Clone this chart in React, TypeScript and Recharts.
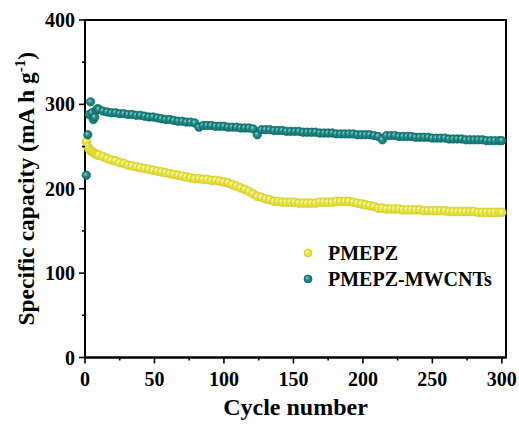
import { ReferenceArea, Scatter, ScatterChart, XAxis, YAxis } from "recharts";

const cycles = [
  1, 2, 3, 4, 5, 6, 7, 8, 9, 10,
  13, 16, 19, 22, 25, 28, 31, 34, 37, 40,
  43, 46, 49, 52, 55, 58, 61, 64, 67, 70,
  73, 76, 79, 82, 85, 88, 91, 94, 97, 100,
  103, 106, 109, 112, 115, 118, 121, 124, 127, 130,
  133, 136, 139, 142, 145, 148, 151, 154, 157, 160,
  163, 166, 169, 172, 175, 178, 181, 184, 187, 190,
  193, 196, 199, 202, 205, 208, 211, 214, 217, 220,
  223, 226, 229, 232, 235, 238, 241, 244, 247, 250,
  253, 256, 259, 262, 265, 268, 271, 274, 277, 280,
  283, 286, 289, 292, 295, 298,
  300,
];

const pmepz = [
  256, 250, 247, 245, 244, 243, 242, 241, 240, 240,
  238, 236, 234, 233, 231, 230, 228, 227, 226, 225,
  224, 223, 222, 221, 220, 219, 218, 217, 216, 215,
  214, 213, 212, 212, 211, 211, 210, 210, 209, 208,
  207, 205, 203, 201, 199, 197, 194, 191, 190, 188,
  187, 185, 185, 184, 184, 184, 184, 183, 183, 183,
  183, 183, 184, 184, 184, 184, 185, 185, 185, 185,
  184, 183, 182, 181, 180, 179, 177, 177, 176, 176,
  176, 176, 175, 175, 175, 175, 175, 174, 174, 174,
  174, 174, 174, 173, 173, 173, 173, 173, 173, 173,
  172, 172, 172, 172, 172, 172,
  172,
];

const pmepzMwcnts = [
  216, 264, 288, 303, 290, 282, 285, 293, 295, 294,
  292, 291, 290, 290, 289, 289, 288, 288, 287, 287,
  286, 285, 285, 284, 283, 282, 282, 281, 280, 280,
  279, 279, 278, 273, 275, 275, 275, 274, 274, 274,
  273, 273, 273, 272, 272, 272, 271, 264, 270, 270,
  270, 269, 269, 269, 268, 268, 268, 268, 267, 267,
  267, 267, 266, 266, 266, 266, 265, 265, 265, 265,
  265, 264, 264, 264, 264, 263, 262, 258, 263, 263,
  263, 262, 262, 262, 262, 261, 261, 261, 261, 260,
  260, 260, 260, 259, 259, 259, 259, 258, 258, 258,
  258, 258, 257, 257, 257, 257,
  257,
];

const xTicks = [0, 25, 50, 75, 100, 125, 150, 175, 200, 225, 250, 275, 300];
const yTicks = [0, 50, 100, 150, 200, 250, 300, 350, 400];

const yellowData = cycles.map((c, i) => ({ cycle: c, capacity: pmepz[i] }));
const tealData = cycles.map((c, i) => ({ cycle: c, capacity: pmepzMwcnts[i] }));

const FONT = '"Liberation Serif", "Times New Roman", serif';

function XTick(props: any) {
  const { x, y, payload } = props;
  const major = payload.value % 50 === 0;
  return (
    <g>
      <line x1={x} y1={y} x2={x} y2={y + (major ? 6 : 3)} stroke="#000" strokeWidth={1.6} />
      {major && (
        <text x={x} y={y + 28} textAnchor="middle" fontFamily={FONT} fontWeight="bold" fontSize={20} fill="#000">
          {payload.value}
        </text>
      )}
    </g>
  );
}

function YTick(props: any) {
  const { x, y, payload } = props;
  const major = payload.value % 100 === 0;
  return (
    <g>
      <line x1={x} y1={y} x2={x - (major ? 6 : 3)} y2={y} stroke="#000" strokeWidth={1.6} />
      {major && (
        <text x={x - 10} y={y + 7} textAnchor="end" fontFamily={FONT} fontWeight="bold" fontSize={20} fill="#000">
          {payload.value}
        </text>
      )}
    </g>
  );
}

function YTitle(props: any) {
  const { viewBox } = props;
  const cy = viewBox.y + viewBox.height / 2;
  const cx = 34;
  return (
    <text
      x={cx}
      y={cy}
      transform={`rotate(-90, ${cx}, ${cy})`}
      textAnchor="middle"
      fontFamily={FONT}
      fontWeight="bold"
      fontSize={23.5}
      fill="#000"
    >
      Specific capacity (mA h g
      <tspan fontSize={15} dy={-9}>-1</tspan>
      <tspan dy={9}>)</tspan>
    </text>
  );
}

function ball(fillId: string, edge: string, r: number) {
  return (props: any) => (
    <circle cx={props.cx} cy={props.cy} r={r} fill={`url(#${fillId})`} stroke={edge} strokeWidth={0.7} />
  );
}

const yellowBall = ball("ballYellow", "#cfcb2c", 4.4);
const tealBall = ball("ballTeal", "#0d6360", 4.2);

export default function App() {
  return (
    <div style={{ position: "absolute", left: 0, top: 0, width: 519, height: 430, background: "#fff" }}>
      <ScatterChart width={519} height={430} margin={{ top: 20, right: 13, bottom: 0, left: 0 }}>
        <defs>
          <radialGradient id="ballYellow" cx="50%" cy="50%" r="55%" fx="35%" fy="32%">
            <stop offset="0%" stopColor="#fbfbc4" />
            <stop offset="45%" stopColor="#ebe84a" />
            <stop offset="100%" stopColor="#d8d42e" />
          </radialGradient>
          <radialGradient id="ballTeal" cx="50%" cy="50%" r="55%" fx="35%" fy="32%">
            <stop offset="0%" stopColor="#8fd0cc" />
            <stop offset="45%" stopColor="#1f8f8b" />
            <stop offset="100%" stopColor="#136f6b" />
          </radialGradient>
        </defs>
        <XAxis
          type="number"
          dataKey="cycle"
          domain={[0, 303]}
          ticks={xTicks}
          interval={0}
          tick={<XTick />}
          tickLine={false}
          tickSize={0}
          tickMargin={0}
          axisLine={{ stroke: "#000", strokeWidth: 2 }}
          height={72.5}
          label={{
            value: "Cycle number",
            position: "insideBottom",
            offset: 15,
            fontFamily: FONT,
            fontWeight: "bold",
            fontSize: 24,
            fill: "#000",
          }}
        />
        <YAxis
          type="number"
          dataKey="capacity"
          domain={[0, 400]}
          ticks={yTicks}
          interval={0}
          tick={<YTick />}
          tickLine={false}
          tickSize={0}
          tickMargin={0}
          axisLine={{ stroke: "#000", strokeWidth: 2 }}
          width={85}
          label={<YTitle />}
        />
        <ReferenceArea x1={0} x2={303} y1={0} y2={400} fill="none" stroke="#000" strokeWidth={2} ifOverflow="visible" />
        <Scatter name="PMEPZ" data={yellowData} shape={yellowBall} isAnimationActive={false} />
        <Scatter name="PMEPZ-MWCNTs" data={tealData} shape={tealBall} isAnimationActive={false} />
      </ScatterChart>
      <svg width={519} height={430} style={{ position: "absolute", left: 0, top: 0, pointerEvents: "none" }}>
        <circle cx={308} cy={253} r={4} fill="url(#ballYellow)" stroke="#cfcb2c" strokeWidth={0.7} />
        <text x={328} y={260} fontFamily={FONT} fontWeight="bold" fontSize={20} fill="#000">
          PMEPZ
        </text>
        <circle cx={308} cy={279} r={4} fill="url(#ballTeal)" stroke="#0d6360" strokeWidth={0.7} />
        <text x={328} y={286} fontFamily={FONT} fontWeight="bold" fontSize={20} fill="#000">
          PMEPZ-MWCNTs
        </text>
      </svg>
    </div>
  );
}
